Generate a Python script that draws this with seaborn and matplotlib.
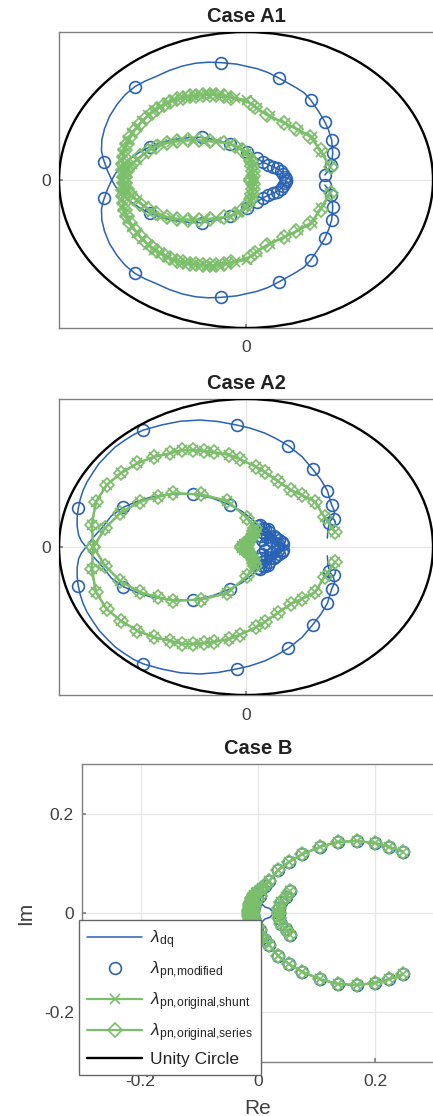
import numpy as np
import matplotlib
matplotlib.use("Agg")
import matplotlib.pyplot as plt
from matplotlib.patches import Circle
from matplotlib.lines import Line2D
import seaborn as sns

# ── Colours ───────────────────────────────────────────────────
BLUE  = "#2a62b4"
GREEN = "#7cbf6a"
GRID  = "#e6e6e6"
SPINE = "#808080"
TEXT  = "#404040"

# ── Data: upper branches as [Re, Im]; the lower branch is the conjugate ──
# Case A1
A1_DQ = [[0.422, 0.034], [0.445, 0.07], [0.458, 0.12], [0.464, 0.18], [0.458, 0.27],
         [0.442, 0.335], [0.422, 0.392], [0.39, 0.46], [0.346, 0.541], [0.31, 0.59],
         [0.265, 0.626], [0.178, 0.687], [0.12, 0.725], [0.06, 0.752], [-0.05, 0.783],
         [-0.135, 0.793], [-0.2, 0.796], [-0.27, 0.789], [-0.34, 0.77], [-0.41, 0.74],
         [-0.48, 0.70], [-0.54, 0.668], [-0.594, 0.631], [-0.645, 0.578], [-0.69, 0.51],
         [-0.73, 0.43], [-0.757, 0.345], [-0.771, 0.27], [-0.773, 0.2], [-0.765, 0.15],
         [-0.758, 0.124], [-0.74, 0.06], [-0.718, 0.0], [-0.695, -0.05], [-0.66, -0.1],
         [-0.62, -0.145], [-0.56, -0.195], [-0.513, -0.225], [-0.45, -0.255],
         [-0.38, -0.275], [-0.3, -0.287], [-0.237, -0.288], [-0.16, -0.272], [-0.086, -0.243],
         [-0.03, -0.215], [0.004, -0.191], [0.057, -0.147], [0.1, -0.115], [0.14, -0.092],
         [0.164, -0.079], [0.19, -0.055], [0.205, -0.03], [0.215, -0.008]]
A1_MOD = [[0.422, 0.034], [0.453, 0.101], [0.464, 0.18], [0.458, 0.27], [0.422, 0.392],
          [0.346, 0.541], [0.178, 0.687], [-0.135, 0.793], [-0.594, 0.631], [-0.758, 0.124],
          [-0.513, -0.225], [-0.237, -0.288], [-0.086, -0.243], [0.004, -0.191], [0.057, -0.147],
          [0.09, -0.122], [0.12, -0.103], [0.145, -0.088], [0.165, -0.078], [0.185, -0.06],
          [0.2, -0.04], [0.21, -0.02], [0.215, -0.008]]
A1_SHUNT = [[0.449, 0.09], [0.4, 0.19], [0.351, 0.293], [0.28, 0.34], [0.209, 0.383],
            [0.13, 0.43], [0.057, 0.484], [0.004, 0.541], [-0.06, 0.553], [-0.103, 0.563],
            [-0.14, 0.572], [-0.175, 0.579], [-0.21, 0.578], [-0.246, 0.574], [-0.28, 0.57],
            [-0.317, 0.563], [-0.355, 0.552], [-0.389, 0.541], [-0.425, 0.52], [-0.46, 0.495],
            [-0.49, 0.47], [-0.522, 0.439], [-0.555, 0.4], [-0.584, 0.36], [-0.608, 0.315],
            [-0.629, 0.27], [-0.645, 0.225], [-0.656, 0.18], [-0.662, 0.135], [-0.665, 0.09],
            [-0.664, 0.045], [-0.66, 0.0], [-0.65, -0.04], [-0.635, -0.08], [-0.612, -0.11],
            [-0.584, -0.135], [-0.545, -0.175], [-0.504, -0.214], [-0.45, -0.24], [-0.397, -0.259],
            [-0.34, -0.267], [-0.282, -0.27], [-0.22, -0.265], [-0.16, -0.258], [-0.086, -0.248],
            [-0.04, -0.215], [0.004, -0.18], [0.02, -0.145], [0.03, -0.113], [0.036, -0.08],
            [0.039, -0.045], [0.03, -0.01]]
A1_SERIES = [[0.452, 0.085], [0.4, 0.2], [0.342, 0.293], [0.27, 0.345], [0.205, 0.385],
             [0.11, 0.44], [0.05, 0.49], [0.02, 0.52], [-0.08, 0.556], [-0.12, 0.566],
             [-0.16, 0.574], [-0.195, 0.576], [-0.23, 0.574], [-0.265, 0.57], [-0.3, 0.565],
             [-0.335, 0.556], [-0.37, 0.545], [-0.405, 0.53], [-0.44, 0.505], [-0.475, 0.48],
             [-0.505, 0.452], [-0.535, 0.42], [-0.565, 0.38], [-0.595, 0.335], [-0.618, 0.29],
             [-0.635, 0.245], [-0.648, 0.2], [-0.655, 0.155], [-0.658, 0.11], [-0.657, 0.065],
             [-0.655, 0.02], [-0.648, -0.02], [-0.636, -0.06], [-0.62, -0.095], [-0.598, -0.125],
             [-0.565, -0.16], [-0.525, -0.195], [-0.48, -0.225], [-0.425, -0.25], [-0.37, -0.262],
             [-0.31, -0.268], [-0.25, -0.268], [-0.19, -0.262], [-0.12, -0.252], [-0.06, -0.232],
             [-0.02, -0.2], [0.01, -0.165], [0.025, -0.13], [0.033, -0.095], [0.038, -0.06],
             [0.035, -0.025], [0.025, -0.005]]

# Case A2
A2_DQ = [[0.435, 0.06], [0.438, 0.12], [0.448, 0.17], [0.468, 0.205], [0.474, 0.24],
         [0.458, 0.284], [0.435, 0.381], [0.4, 0.455], [0.357, 0.525], [0.3, 0.61],
         [0.226, 0.685], [0.16, 0.733], [0.1, 0.77], [0.02, 0.804], [-0.05, 0.824],
         [-0.15, 0.848], [-0.246, 0.858], [-0.35, 0.85], [-0.45, 0.825], [-0.549, 0.79],
         [-0.6, 0.76], [-0.65, 0.72], [-0.7, 0.675], [-0.74, 0.625], [-0.785, 0.565],
         [-0.82, 0.5], [-0.85, 0.44], [-0.872, 0.38], [-0.887, 0.32], [-0.897, 0.261],
         [-0.903, 0.2], [-0.903, 0.14], [-0.895, 0.08], [-0.88, 0.04], [-0.855, 0.0],
         [-0.82, -0.06], [-0.77, -0.13], [-0.72, -0.21], [-0.656, -0.268], [-0.58, -0.31],
         [-0.5, -0.34], [-0.4, -0.357], [-0.282, -0.358], [-0.18, -0.33], [-0.086, -0.284],
         [-0.02, -0.24], [0.03, -0.19], [0.066, -0.144], [0.075, -0.15], [0.2, -0.015],
         [0.08, -0.12], [0.19, -0.03], [0.085, -0.09], [0.17, -0.05], [0.09, -0.06],
         [0.15, -0.07], [0.095, -0.035], [0.12, -0.1], [0.1, -0.02], [0.14, -0.085],
         [0.16, -0.03], [0.11, -0.13], [0.21, -0.005]]
A2_MOD = [[0.445, 0.165], [0.471, 0.19], [0.458, 0.284], [0.435, 0.381], [0.357, 0.525],
          [0.226, 0.685], [-0.05, 0.824], [-0.549, 0.79], [-0.897, 0.261], [-0.656, -0.268],
          [-0.282, -0.358], [-0.086, -0.284], [0.066, -0.144], [0.075, -0.15], [0.1, -0.125],
          [0.125, -0.1], [0.15, -0.075], [0.175, -0.05], [0.2, -0.02], [0.085, -0.1],
          [0.085, -0.05], [0.11, -0.07], [0.14, -0.04], [0.17, -0.02], [0.1, -0.02],
          [0.09, -0.13], [0.12, -0.12], [0.16, -0.06], [0.19, -0.035], [0.08, -0.075]]
A2_SHUNT = [[0.476, 0.103], [0.42, 0.2], [0.369, 0.306], [0.3, 0.35], [0.239, 0.385],
            [0.17, 0.445], [0.102, 0.505], [0.053, 0.543], [-0.032, 0.592], [-0.089, 0.622],
            [-0.169, 0.64], [-0.225, 0.649], [-0.282, 0.655], [-0.344, 0.655], [-0.406, 0.633],
            [-0.492, 0.61], [-0.581, 0.565], [-0.67, 0.498], [-0.745, 0.419], [-0.802, 0.306],
            [-0.825, 0.149], [-0.816, 0.0], [-0.754, -0.126], [-0.674, -0.228], [-0.567, -0.306],
            [-0.47, -0.34], [-0.389, -0.363], [-0.24, -0.355], [-0.1, -0.311], [0.004, -0.198],
            [0.048, -0.126], [0.045, -0.105], [0.035, -0.08], [0.025, -0.06], [0.015, -0.04],
            [0.008, -0.025], [0.004, -0.012], [-0.01, -0.02], [-0.02, -0.005]]
A2_SERIES = A2_SHUNT

# Case B
B_OUTER = [[0.247, 0.123], [0.224, 0.133], [0.199, 0.141], [0.168, 0.145], [0.136, 0.143],
           [0.105, 0.133], [0.075, 0.118], [0.053, 0.103], [0.034, 0.086], [0.019, 0.064],
           [0.012, 0.054], [0.007, 0.05], [0.003, 0.046], [-0.001, 0.043], [-0.004, 0.04],
           [-0.006, 0.037], [-0.008, 0.033], [-0.01, 0.03], [-0.011, 0.026], [-0.012, 0.022],
           [-0.013, 0.018], [-0.014, 0.014], [-0.014, 0.01], [-0.015, 0.006], [-0.015, 0.002],
           [-0.008, 0.004], [-0.007, 0.012], [-0.005, 0.02], [-0.002, 0.028], [0.003, 0.034]]
B_INNER = [[0.055, 0.044], [0.047, 0.033], [0.04, 0.022], [0.036, 0.01], [0.035, 0.0]]
B_DQ_ARC = [[0.005, 0.02], [0.012, 0.012], [0.02, 0.009], [0.024, 0.004]]

# ── Style ─────────────────────────────────────────────────────
sns.set_theme(style="white")
plt.rcParams["font.family"] = ["Liberation Sans", "DejaVu Sans"]
plt.rcParams["mathtext.fontset"] = "custom"
plt.rcParams["mathtext.rm"] = "Liberation Sans"
plt.rcParams["mathtext.it"] = "Liberation Sans:italic"

MS_O, MS_X, MS_D = 8.5, 7, 7
LW_G = 1.6


def conj_pair(pts):
    a = np.asarray(pts, dtype=float)
    return [(a[:, 0], a[:, 1]), (a[:, 0], -a[:, 1])]


def line(ax, pts, color, lw, marker=None, ms=6):
    for re, im in conj_pair(pts):
        kw = dict(color=color, linewidth=lw, ax=ax, sort=False, estimator=None)
        if marker:
            kw.update(marker=marker, markersize=ms, markerfacecolor="none",
                      markeredgecolor=color, markeredgewidth=1.2)
        sns.lineplot(x=re, y=im, **kw)


def circles(ax, pts):
    for re, im in conj_pair(pts):
        sns.lineplot(x=re, y=im, ax=ax, sort=False, estimator=None, linestyle="none",
                     marker="o", markersize=MS_O, markerfacecolor="none",
                     markeredgecolor=BLUE, markeredgewidth=1.2)


def style_axes(ax, lim_x, lim_y, ticks_x, ticks_y, labels_x, labels_y, title):
    ax.set_xlim(*lim_x)
    ax.set_ylim(*lim_y)
    ax.set_xticks(ticks_x, labels_x)
    ax.set_yticks(ticks_y, labels_y)
    ax.grid(True, color=GRID, linewidth=0.9)
    ax.set_axisbelow(True)
    for side, sp in ax.spines.items():
        sp.set_color(SPINE)
        sp.set_linewidth(1.0)
    ax.spines["right"].set_visible(False)
    ax.tick_params(direction="in", length=3, color=SPINE, labelcolor=TEXT,
                   labelsize=12.5, left=True, bottom=True)
    ax.tick_params(axis="x", pad=9)
    ax.tick_params(axis="y", pad=6)
    ax.set_title(title, fontsize=14.5, fontweight="bold", color="#222222", pad=7)
    ax.add_patch(Circle((0, 0), 1.0, fill=False, edgecolor="black", linewidth=1.7, zorder=5))


fig = plt.figure(figsize=(4.33, 11.16), dpi=100)
W, H = 433.0, 1116.0

ax1 = fig.add_axes([59 / W, 788 / H, 374 / W, 296 / H])
ax2 = fig.add_axes([59 / W, 421 / H, 374 / W, 296 / H])
ax3 = fig.add_axes([82 / W, 54 / H, 352 / W, 298 / H])

for ax, dq, mod, sh, se, title in [
    (ax1, A1_DQ, A1_MOD, A1_SHUNT, A1_SERIES, "Case A1"),
    (ax2, A2_DQ, A2_MOD, A2_SHUNT, A2_SERIES, "Case A2"),
]:
    line(ax, dq, BLUE, 1.1)
    circles(ax, mod)
    line(ax, sh, GREEN, LW_G, marker="x", ms=MS_X)
    line(ax, se, GREEN, LW_G, marker="D", ms=MS_D)
    style_axes(ax, (-1, 1), (-1, 1), [0], [0], ["0"], ["0"], title)

# Case B
line(ax3, B_OUTER + B_DQ_ARC, BLUE, 1.1)
circles(ax3, B_OUTER)
circles(ax3, B_INNER)
for pts in (B_OUTER, B_INNER):
    line(ax3, pts, GREEN, LW_G, marker="x", ms=MS_X)
    line(ax3, pts, GREEN, LW_G, marker="D", ms=MS_D)
style_axes(ax3, (-0.3, 0.3), (-0.3, 0.3), [-0.2, 0, 0.2], [-0.2, 0, 0.2],
           ["-0.2", "0", "0.2"], ["-0.2", "0", "0.2"], "Case B")
ax3.set_xlabel("Re", fontsize=15, color=TEXT, labelpad=7)
ax3.set_ylabel("Im", fontsize=15, color=TEXT, labelpad=6)

handles = [
    Line2D([], [], color=BLUE, lw=1.1),
    Line2D([], [], color=BLUE, ls="none", marker="o", ms=MS_O, mfc="none", mew=1.2),
    Line2D([], [], color=GREEN, lw=LW_G, marker="x", ms=MS_X, mew=1.2),
    Line2D([], [], color=GREEN, lw=LW_G, marker="D", ms=MS_D, mfc="none", mew=1.2),
    Line2D([], [], color="black", lw=1.7),
]
labels = [r"$\lambda_{\mathrm{dq}}$", r"$\lambda_{\mathrm{pn{,}modified}}$",
          r"$\lambda_{\mathrm{pn{,}original{,}shunt}}$",
          r"$\lambda_{\mathrm{pn{,}original{,}series}}$",
          "Unity Circle"]
leg = fig.legend(handles, labels, loc="lower left", bbox_to_anchor=(79 / W, 41 / H),
                 bbox_transform=fig.transFigure, borderaxespad=0, fontsize=12.5,
                 handlelength=3.2, handletextpad=0.45, labelspacing=0.48,
                 fancybox=False, framealpha=1, edgecolor="#666666", borderpad=0.45)
leg.get_frame().set_linewidth(1.0)
leg.set_zorder(20)

fig.savefig("out.png", dpi=100)
